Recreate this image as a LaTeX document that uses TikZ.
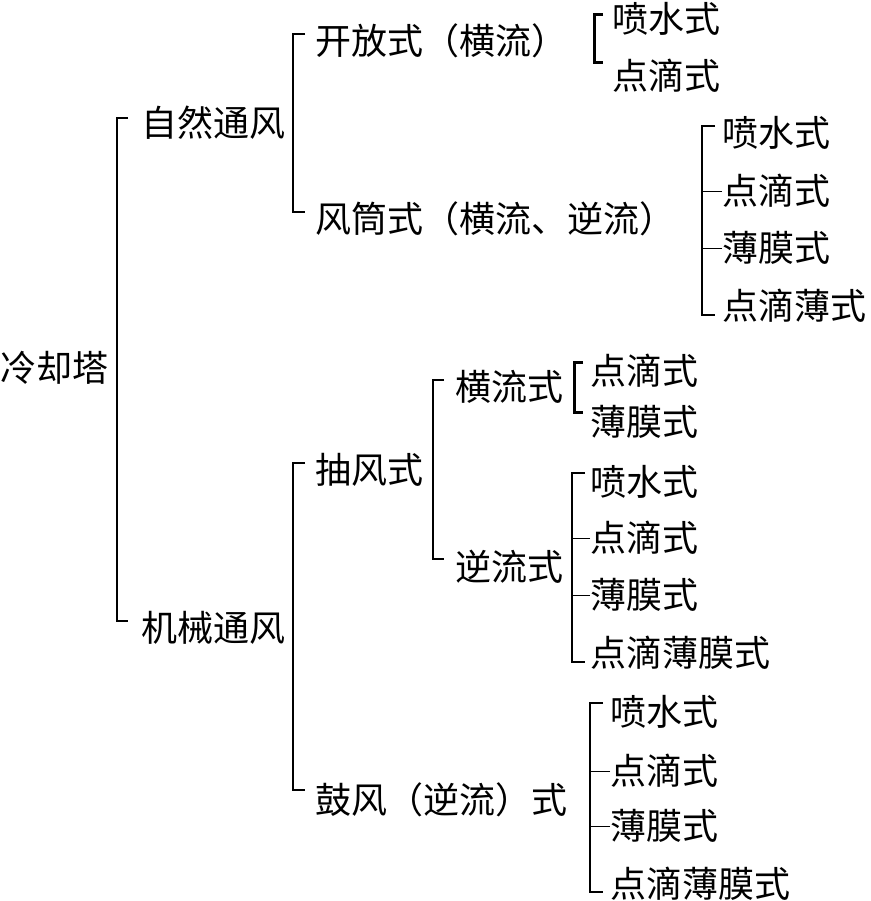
\documentclass[tikz,border=0pt]{standalone}
\usepackage{fontspec}
\setmainfont{Noto Sans CJK SC}
\usepackage{tikz}
\tikzset{
    txt/.style={
        anchor=west,
        inner sep=0pt,
        font=\fontsize{36}{36}\selectfont
    },
    rama/.style={line width=1.3pt},
    hoja/.style={line width=0.8pt},
    corchete/.style={line width=3pt}
}

\begin{document}
\begin{tikzpicture}[
    x=1pt,
    y=-1pt
]

    \useasboundingbox (0,0) rectangle (870,901);

    % Niveles 0 y 1
    \node[txt] (ct)  at (0,368)   {冷却塔};
    \node[txt] (nat) at (141,123) {自然通风};
    \node[txt] (mec) at (141,628) {机械通风};

    % Nivel 2
    \node[txt] (abi) at (315,41)  {开放式（横流）};
    \node[txt] (tub) at (315,219) {风筒式（横流、逆流）};
    \node[txt] (suc) at (315,470) {抽风式};
    \node[txt] (sop) at (315,800) {鼓风（逆流）式};

    % Nivel 3
    \node[txt] (sx) at (455,387) {横流式};
    \node[txt] (sn) at (455,567) {逆流式};

    % Hojas
    \node[txt] (a1) at (612,19)  {喷水式};
    \node[txt] (a2) at (612,76)  {点滴式};

    \node[txt] (t1) at (722,133) {喷水式};
    \node[txt] (t2) at (722,191) {点滴式};
    \node[txt] (t3) at (722,248) {薄膜式};
    \node[txt] (t4) at (722,306) {点滴薄式};

    \node[txt] (x1) at (590,371) {点滴式};
    \node[txt] (x2) at (590,422) {薄膜式};

    \node[txt] (n1) at (590,482) {喷水式};
    \node[txt] (n2) at (590,538) {点滴式};
    \node[txt] (n3) at (590,595) {薄膜式};
    \node[txt] (n4) at (590,653) {点滴薄膜式};

    \node[txt] (b1) at (610,712) {喷水式};
    \node[txt] (b2) at (610,771) {点滴式};
    \node[txt] (b3) at (610,826) {薄膜式};
    \node[txt] (b4) at (610,884) {点滴薄膜式};

    % Corchetes
    \draw[rama] ([xshift=-13pt,yshift=5pt]nat.west) -- ++(-11,0)
        |- ([xshift=-13pt,yshift=7pt]mec.west);

    \draw[rama] ([xshift=-10pt,yshift=7pt]abi.west) -- ++(-12,0)
        |- ([xshift=-10pt,yshift=7pt]tub.west);
    \draw[rama] ([xshift=-10pt,yshift=7pt]suc.west) -- ++(-12,0)
        |- ([xshift=-10pt,yshift=10pt]sop.west);

    \draw[rama] ([xshift=-11pt,yshift=7pt]sx.west) -- ++(-11,0)
        |- ([xshift=-11pt,yshift=8pt]sn.west);

    \draw[corchete] ([xshift=-9pt,yshift=4pt]a1.west) -- ++(-9,0)
        |- ([xshift=-9pt,yshift=13pt]a2.west);
    \draw[corchete] ([xshift=-7pt,yshift=9pt]x1.west) -- ++(-9,0)
        |- ([xshift=-7pt,yshift=10pt]x2.west);

    \draw[rama] ([xshift=-7pt,yshift=7pt]t1.west) -- ++(-13,0)
        |- ([xshift=-7pt,yshift=-9pt]t4.west);
    \draw[hoja] (t2.west) -- ++(-20,0);
    \draw[hoja] (t3.west) -- ++(-20,0);

    \draw[rama] ([xshift=-5pt,yshift=9pt]n1.west) -- ++(-13,0)
        |- ([xshift=-5pt,yshift=-9pt]n4.west);
    \draw[hoja] (n2.west) -- ++(-18,0);
    \draw[hoja] (n3.west) -- ++(-18,0);

    \draw[rama] ([xshift=-7pt,yshift=9pt]b1.west) -- ++(-13,0)
        |- ([xshift=-7pt,yshift=-8pt]b4.west);
    \draw[hoja] (b2.west) -- ++(-20,0);
    \draw[hoja] (b3.west) -- ++(-20,0);

\end{tikzpicture}
\end{document}
